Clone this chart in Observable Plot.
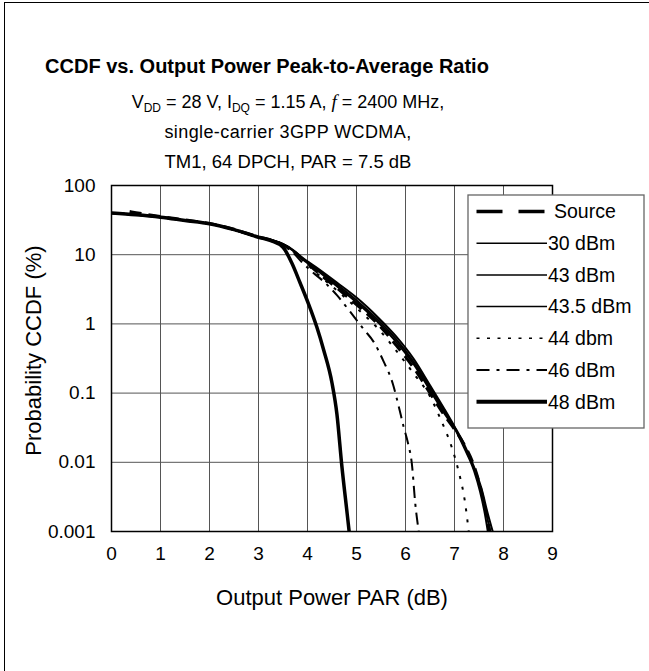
<!DOCTYPE html>
<html><head><meta charset="utf-8">
<script src="https://cdn.jsdelivr.net/npm/d3@7"></script>
<script src="https://cdn.jsdelivr.net/npm/@observablehq/plot@0.6"></script>
<style>
body{margin:0;background:#fff;font-family:"Liberation Sans",Arial,sans-serif;}
#wrap{position:relative;width:649px;height:671px;overflow:hidden;background:#fff;}
.frame{position:absolute;left:4px;top:2px;width:800px;height:800px;border-left:1.5px solid #000;border-top:1.5px solid #000;}
#chart{position:absolute;left:0;top:0;}
#over{position:absolute;left:0;top:0;}
</style></head><body>
<div id="wrap">
<div class="frame"></div>
<div id="chart"></div>
<svg id="over" width="649" height="671"></svg>
</div>
<script>
// ---- data ----
const title = "CCDF vs. Output Power Peak-to-Average Ratio";
const xLabel = "Output Power PAR (dB)";
const yLabel = "Probability CCDF (%)";
const xTicks = [0,1,2,3,4,5,6,7,8,9];
const yTicks = [0.001,0.01,0.1,1,10,100];
const yTickLabels = ["0.001","0.01","0.1","1","10","100"];
const seriesNames = ["Source","30 dBm","43 dBm","43.5 dBm","44 dbm","46 dBm","48 dBm"];

// shared start (all measured curves overlap here)
const headX = [0,0.5,1,1.5,2,2.5,3];
const headY = [40,37.7,34.8,31.2,28,23,17.9];

const srcX = [0.37,0.5,1,1.5,2,2.5,3,3.3,3.5,3.7,3.9,4.2,4.6,5.0,5.45,5.8,6.17,6.5,6.8,7.0,7.2,7.4,7.5,7.6,7.72];
const srcY = [42,40.5,35.6,31.8,28.3,23.3,18.1,15.9,13.9,11.4,8.6,5.6,3.3,1.9,0.97,0.5,0.23,0.1,0.047,0.03,0.018,0.0088,0.0052,0.0026,0.001];

const t30X = [3.3,3.5,3.7,3.9,4.2,4.6,5.0,5.45,5.8,6.17,6.5,6.8,7.0,7.2,7.4,7.55,7.68,7.78];
const t30Y = [16.0,14.3,11.8,9.0,6.4,3.95,2.4,1.22,0.67,0.31,0.13,0.058,0.033,0.018,0.0085,0.0042,0.0018,0.001];

const t43X = [3.3,3.5,3.7,3.9,4.2,4.6,5.0,5.45,5.8,6.17,6.5,6.8,7.0,7.2,7.4,7.55,7.65,7.73];
const t43Y = [16.0,14.2,11.6,8.8,6.1,3.7,2.2,1.12,0.61,0.28,0.12,0.054,0.032,0.017,0.008,0.0038,0.0018,0.001];

const t435X = [3.3,3.5,3.7,3.9,4.2,4.6,5.0,5.45,5.8,6.17,6.5,6.8,7.0,7.2,7.4,7.52,7.62,7.68];
const t435Y = [16.0,14.1,11.5,8.6,5.9,3.5,2.05,1.04,0.56,0.26,0.11,0.05,0.031,0.016,0.0075,0.0038,0.0018,0.001];

const t44X = [3.3,3.5,3.7,3.9,4.2,4.6,5.0,5.45,5.8,6.17,6.51,6.71,6.95,7.08,7.22,7.29];
const t44Y = [16.0,14.0,11.3,8.4,5.3,3.05,1.7,0.84,0.42,0.19,0.087,0.043,0.016,0.0076,0.0025,0.001];

const t46X = [3.3,3.5,3.7,3.9,4.1,4.33,4.6,4.87,5.14,5.35,5.55,5.75,5.86,5.96,6.05,6.13,6.2,6.27];
const t46Y = [16.0,13.6,10.8,7.6,5.6,4.1,2.6,1.5,0.85,0.55,0.29,0.13,0.065,0.033,0.019,0.0095,0.0025,0.001];

const t48X = [3.25,3.5,3.68,3.85,4.02,4.19,4.33,4.5,4.6,4.7,4.81,4.85];
const t48Y = [16.0,12.8,7.6,3.9,1.95,0.9,0.42,0.14,0.05,0.009,0.0018,0.001];

// ---- build table ----
const seriesXs = [srcX, headX.concat(t30X), headX.concat(t43X), headX.concat(t435X), headX.concat(t44X), headX.concat(t46X), headX.concat(t48X)];
const seriesYs = [srcY, headY.concat(t30Y), headY.concat(t43Y), headY.concat(t435Y), headY.concat(t44Y), headY.concat(t46Y), headY.concat(t48Y)];
const rows = [];
seriesNames.forEach((name, k) => seriesXs[k].forEach((x, i) => rows.push({name, x, y: seriesYs[k][i]})));

const plotStyle = {
  "Source":   {w: 3,   dash: "12,7",       lw: 3.3, ldash: "26,16"},
  "30 dBm":   {w: 2,   dash: null,         lw: 1.5, ldash: null},
  "43 dBm":   {w: 2,   dash: null,         lw: 1.5, ldash: null},
  "43.5 dBm": {w: 2,   dash: null,         lw: 1.5, ldash: null},
  "44 dbm":   {w: 2,   dash: "3,8",        lw: 1.5, ldash: "3,7.5"},
  "46 dBm":   {w: 2,   dash: "12,6,3,6",   lw: 1.8, ldash: "13,7,3,7"},
  "48 dBm":   {w: 3.5, dash: null,         lw: 4,   ldash: null}
};

const font = "'Liberation Sans', Arial, sans-serif";
const chart = Plot.plot({
  width: 649, height: 671,
  marginLeft: 111, marginRight: 97, marginTop: 185, marginBottom: 140,
  style: {fontFamily: font, fontSize: "19px", background: "transparent", color: "#000"},
  x: {domain: [0, 9]},
  y: {type: "log", domain: [0.001, 100]},
  marks: [
    Plot.ruleX(xTicks.slice(1, -1), {stroke: "#555", strokeWidth: 1}),
    Plot.ruleY(yTicks.slice(1, -1), {stroke: "#555", strokeWidth: 1}),
    ...seriesNames.map(name => Plot.line(rows.filter(r => r.name === name), {
      x: "x", y: "y", curve: "monotone-x", stroke: "#000",
      strokeWidth: plotStyle[name].w, strokeDasharray: plotStyle[name].dash, strokeLinecap: "butt", strokeLinejoin: "round"
    })),
    Plot.frame({stroke: "#000", strokeWidth: 1.5}),
    Plot.axisX({ticks: xTicks, tickSize: 0, tickPadding: 15, label: null, fontSize: 19, tickFormat: d => String(d)}),
    Plot.axisY({ticks: yTicks, tickSize: 0, tickPadding: 16, label: null, fontSize: 19, tickFormat: d => yTickLabels[yTicks.indexOf(d)]}),
    Plot.text([xLabel], {frameAnchor: "bottom", dy: 66, fontSize: 22, textAnchor: "middle", lineAnchor: "middle", text: d => d}),
    Plot.text([yLabel], {frameAnchor: "left", dx: -78, dy: -8, fontSize: 22, rotate: -90, textAnchor: "middle", lineAnchor: "middle", text: d => d})
  ]
});
document.getElementById("chart").appendChild(chart);

// ---- titles & legend overlay ----
const svg = d3.select("#over").style("font-family", font);
svg.append("text").attr("x", 267).attr("y", 73).attr("text-anchor", "middle")
  .attr("font-size", 20).attr("font-weight", "bold").text(title);

const sub1 = svg.append("text").attr("x", 288).attr("y", 108).attr("text-anchor", "middle").attr("font-size", 18);
const parts = [["V",""],["DD","sub"],[" = 28 V, I",""],["DQ","sub"],[" = 1.15 A, ",""],["f","it"],[" = 2400 MHz,",""]];
parts.forEach(([t, k], i) => {
  const ts = sub1.append("tspan").text(t);
  const prev = i > 0 ? parts[i-1][1] : "";
  let dy = 0;
  if (k === "sub" && prev !== "sub") dy = 4;
  if (k !== "sub" && prev === "sub") dy = -4;
  ts.attr("dy", dy);
  if (k === "sub") ts.attr("font-size", 12);
  if (k === "it") ts.attr("font-style", "italic").attr("font-family", "'Liberation Serif', serif").attr("font-size", 19);
});
svg.append("text").attr("x", 288).attr("y", 138).attr("text-anchor", "middle").attr("font-size", 18)
  .attr("letter-spacing", 0.4).text("single-carrier 3GPP WCDMA,");
svg.append("text").attr("x", 288).attr("y", 168).attr("text-anchor", "middle").attr("font-size", 18.5)
  .text("TM1, 64 DPCH, PAR = 7.5 dB");

const lg = svg.append("g").attr("transform", "translate(468,195)");
lg.append("rect").attr("x", 0).attr("y", 0).attr("width", 176).attr("height", 233)
  .attr("fill", "#fff").attr("stroke", "#666").attr("stroke-width", 1.3);
seriesNames.forEach((name, i) => {
  const yy = 16.5 + i * 31.7;
  const st = plotStyle[name];
  lg.append("line").attr("x1", 8.5).attr("x2", name === "Source" ? 78 : 79).attr("y1", yy).attr("y2", yy)
    .attr("stroke", "#000").attr("stroke-width", st.lw).attr("stroke-dasharray", st.ldash);
  lg.append("text").attr("x", name === "Source" ? 86 : 80).attr("y", yy).attr("dy", "0.35em")
    .attr("font-size", 19.5).text(name);
});
</script>
</body></html>
